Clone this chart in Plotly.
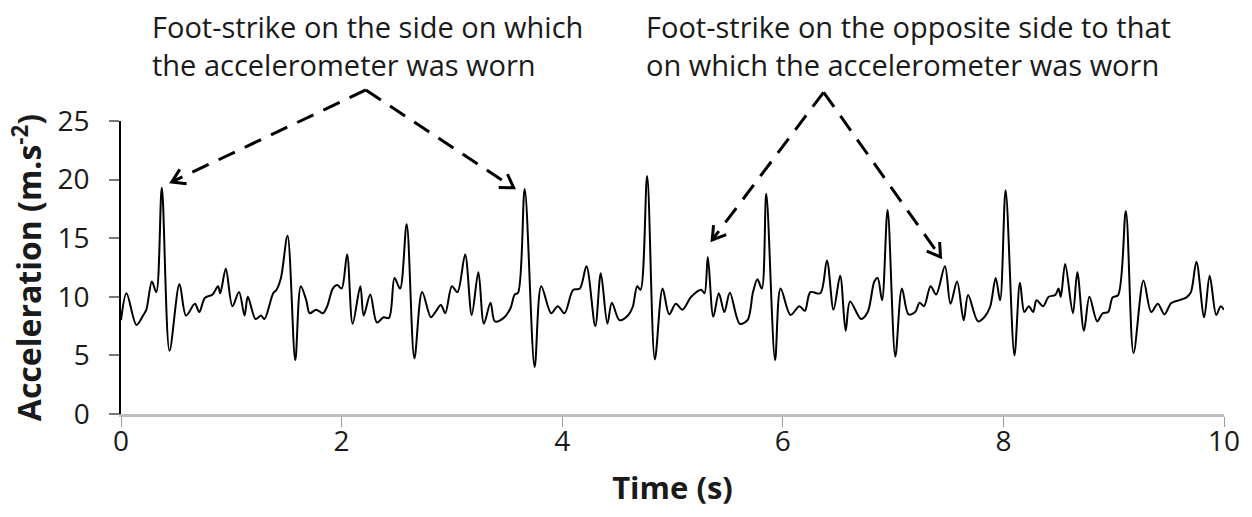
import math
import plotly.graph_objects as go

# ---- data ----
time_s = [0.00, 0.05, 0.14, 0.20, 0.23, 0.28, 0.32, 0.37, 0.44, 0.53, 0.59, 0.67, 0.71, 0.76, 0.83, 0.88, 0.90, 0.95,
          1.01, 1.07, 1.12, 1.15, 1.22, 1.27, 1.30, 1.38, 1.41, 1.45, 1.51, 1.58, 1.63, 1.68, 1.71, 1.77, 1.83, 1.87,
          1.92, 1.96, 2.00, 2.05, 2.10, 2.17, 2.20, 2.26, 2.32, 2.38, 2.43, 2.48, 2.53, 2.59, 2.66, 2.73, 2.81, 2.85,
          2.90, 2.94, 3.00, 3.05, 3.12, 3.18, 3.24, 3.29, 3.35, 3.39, 3.47, 3.53, 3.57, 3.60, 3.66, 3.75, 3.81, 3.90,
          3.96, 4.02, 4.10, 4.16, 4.22, 4.30, 4.35, 4.41, 4.45, 4.52, 4.60, 4.64, 4.68, 4.71, 4.77, 4.84, 4.91, 4.97,
          5.03, 5.09, 5.17, 5.26, 5.29, 5.32, 5.37, 5.42, 5.47, 5.52, 5.61, 5.68, 5.73, 5.77, 5.81, 5.85, 5.93, 5.98,
          6.07, 6.15, 6.20, 6.25, 6.34, 6.40, 6.46, 6.52, 6.57, 6.61, 6.71, 6.77, 6.83, 6.86, 6.90, 6.95, 7.02, 7.08,
          7.14, 7.20, 7.24, 7.28, 7.34, 7.39, 7.47, 7.52, 7.58, 7.64, 7.68, 7.77, 7.83, 7.88, 7.93, 7.97, 8.02, 8.10,
          8.15, 8.19, 8.23, 8.27, 8.30, 8.36, 8.41, 8.47, 8.50, 8.52, 8.56, 8.63, 8.67, 8.73, 8.78, 8.85, 8.90, 8.95,
          8.99, 9.04, 9.11, 9.18, 9.27, 9.34, 9.40, 9.46, 9.52, 9.59, 9.66, 9.70, 9.75, 9.82, 9.87, 9.93, 9.97, 10.00]
accel = [8.0, 10.3, 7.6, 8.4, 8.9, 11.3, 10.4, 19.3, 5.4, 11.1, 8.4, 9.4, 8.7, 9.9, 10.2, 10.9, 10.3, 12.4,
         9.2, 10.4, 8.4, 10.0, 8.1, 8.4, 8.1, 10.3, 10.6, 11.6, 15.2, 4.6, 10.9, 9.7, 8.6, 8.9, 8.6, 9.2,
         10.7, 11.0, 10.7, 13.6, 7.7, 10.9, 8.4, 10.2, 7.8, 8.25, 8.2, 11.6, 10.7, 16.2, 4.75, 10.4, 8.25, 8.7,
         9.3, 8.6, 10.9, 10.4, 13.6, 8.45, 12.1, 7.7, 9.5, 7.9, 8.2, 9.0, 10.2, 10.35, 19.2, 4.0, 10.9, 8.6,
         9.2, 8.6, 10.6, 10.7, 12.6, 7.5, 12.0, 7.7, 9.5, 8.0, 8.45, 9.15, 10.9, 10.6, 20.3, 4.65, 10.7, 8.5,
         9.4, 8.9, 10.0, 10.6, 10.3, 13.4, 8.3, 10.3, 8.7, 10.35, 7.7, 8.0, 10.4, 11.5, 10.7, 18.8, 4.6, 10.7,
         8.45, 9.2, 8.8, 10.4, 10.3, 13.1, 8.9, 11.8, 7.1, 9.6, 8.1, 8.7, 11.3, 11.6, 9.7, 17.4, 4.9, 10.7,
         8.5, 8.7, 9.5, 9.2, 10.9, 10.2, 12.6, 9.4, 11.3, 8.0, 10.15, 7.9, 8.3, 9.15, 11.6, 9.7, 19.1, 5.0,
         11.2, 8.7, 9.2, 8.7, 9.7, 9.2, 10.0, 10.15, 10.7, 10.0, 12.8, 8.6, 12.1, 7.1, 10.0, 7.9, 8.6, 8.7,
         9.95, 10.15, 17.3, 5.2, 11.4, 8.7, 9.4, 8.5, 9.45, 9.7, 9.95, 10.4, 13.0, 8.25, 11.8, 8.45, 9.2, 8.9]

x_ticks = [0, 2, 4, 6, 8, 10]
y_ticks = [0, 5, 10, 15, 20, 25]

label_same = ["Foot-strike on the side on which", "the accelerometer was worn"]
label_opp = ["Foot-strike on the opposite side to that", "on which the accelerometer was worn"]

# annotation arrows (time, acceleration): apex and the two tips
arrow_same = [(2.22, 27.65), (0.46, 19.8), (3.56, 19.3)]
arrow_opp = [(6.37, 27.45), (5.36, 14.85), (7.43, 13.4)]

X_RANGE = [0, 10]
Y_RANGE = [0, 25]

W, H = 1252, 517
ML, MR, MT, MB = 121, 24, 121, 103
PW, PH = W - ML - MR, H - MT - MB

FONT = "Open Sans"
TXT = "#1a1a1a"


def to_paper(t, a):
    return ((t - X_RANGE[0]) / (X_RANGE[1] - X_RANGE[0]),
            (a - Y_RANGE[0]) / (Y_RANGE[1] - Y_RANGE[0]))


fig = go.Figure()
fig.add_trace(go.Scatter(
    x=time_s, y=accel, mode="lines",
    line=dict(color="black", width=2, shape="spline", smoothing=0.9),
    hoverinfo="skip", showlegend=False,
))

shapes = []
annotations = []
HEAD_LEN = 15      # px
HEAD_ANGLE = 32    # degrees
for apex, *tips in (arrow_same, arrow_opp):
    px0, py0 = to_paper(*apex)
    for tip in tips:
        px1, py1 = to_paper(*tip)
        shapes.append(dict(type="line", xref="paper", yref="paper",
                           x0=px0, y0=py0, x1=px1, y1=py1,
                           line=dict(color="black", width=3, dash="18px,11px")))
        # open chevron arrowhead (computed in pixel space, y up)
        dx = (px0 - px1) * PW
        dy = (py0 - py1) * PH
        n = math.hypot(dx, dy)
        ux, uy = dx / n, dy / n
        pts = []
        for sgn in (1, -1):
            ang = math.radians(HEAD_ANGLE) * sgn
            rx = ux * math.cos(ang) - uy * math.sin(ang)
            ry = ux * math.sin(ang) + uy * math.cos(ang)
            pts.append((px1 + rx * HEAD_LEN / PW, py1 + ry * HEAD_LEN / PH))
        path = (f"M {pts[0][0]},{pts[0][1]} L {px1},{py1} L {pts[1][0]},{pts[1][1]}")
        shapes.append(dict(type="path", xref="paper", yref="paper", path=path,
                           line=dict(color="black", width=3)))

for lines, xpix in ((label_same, 150), (label_opp, 646)):
    for i, line in enumerate(lines):
        ypix = 26 + 38 * i
        annotations.append(dict(xref="paper", yref="paper",
                                x=(xpix - ML) / PW, y=(H - MB - ypix) / PH,
                                xanchor="left", yanchor="middle", showarrow=False,
                                text=line, font=dict(family=FONT, size=29, color=TXT)))

fig.update_layout(
    width=W, height=H,
    margin=dict(l=ML, r=MR, t=MT, b=MB),
    paper_bgcolor="white", plot_bgcolor="white",
    shapes=shapes, annotations=annotations,
    font=dict(family=FONT, color=TXT),
)
fig.update_xaxes(
    range=X_RANGE, tickvals=x_ticks, ticktext=[str(v) for v in x_ticks],
    showgrid=False, zeroline=False,
    showline=True, linecolor="#bdbdbd", linewidth=3,
    ticks="outside", ticklen=10, tickcolor="#9a9a9a", tickwidth=1,
    ticklabelstandoff=-10,
    tickfont=dict(family=FONT, size=28, color=TXT),
    title=dict(text="Time (s)", font=dict(family=FONT, size=31, color=TXT, weight="bold"), standoff=20),
)
fig.update_yaxes(
    range=Y_RANGE, tickvals=y_ticks, ticktext=[str(v) for v in y_ticks],
    showgrid=False, zeroline=False,
    showline=True, linecolor="black", linewidth=1.5,
    ticks="outside", ticklen=10, tickcolor="#777777", tickwidth=1.5,
    ticklabelstandoff=14,
    tickfont=dict(family=FONT, size=28, color=TXT),
    title=dict(text="Acceleration (m.s<sup>-2</sup>)", font=dict(family=FONT, size=32, color=TXT, weight="bold"), standoff=6),
)

fig.write_html("out.html")
